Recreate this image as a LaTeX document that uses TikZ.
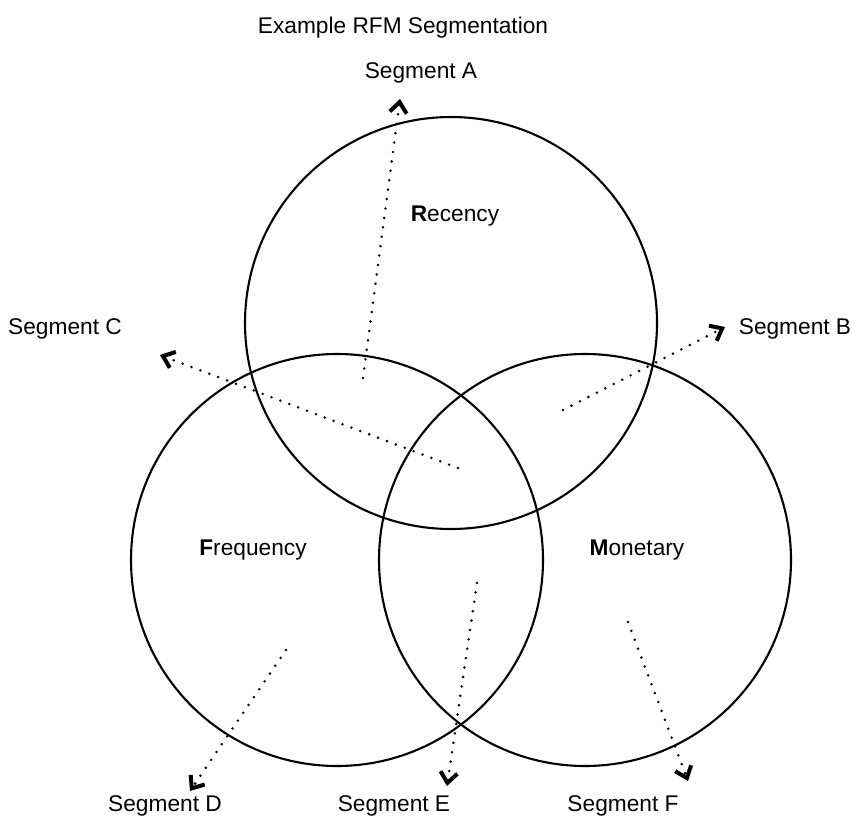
\documentclass[tikz,border=0pt]{standalone}
\usepackage{fontspec}
\setmainfont{Liberation Sans}
\usetikzlibrary{arrows.meta}
\begin{document}
\begin{tikzpicture}[x=1pt,y=-1pt,
  setcircle/.style={draw=black,line width=2.1pt},
  label/.style={font=\fontsize{22.7}{27}\selectfont,inner sep=0pt},
  pointer/.style={line width=2.8pt,line cap=round,dash pattern=on 0pt off 9.5pt,
    -{Straight Barb[length=10.5pt,width=17pt,line width=4pt]}}]
  \useasboundingbox (0,0) rectangle (856,832);
  % the three sets
  \node[setcircle,circle,minimum size=412pt,inner sep=0pt] (rec) at (451,323) {};
  \node[setcircle,circle,minimum size=412pt,inner sep=0pt] (fre) at (337,560) {};
  \node[setcircle,circle,minimum size=412pt,inner sep=0pt] (mon) at (585,560) {};
  % set names
  \node[label] (rlab) at (455,216) {\textbf{R}ecency};
  \node[label] (flab) at (253,550) {\textbf{F}requency};
  \node[label] (mlab) at (637,550) {\textbf{M}onetary};
  % title and segment names
  \node[label] (title) at (403,28) {Example RFM Segmentation};
  \node[label] (sa) at (421,73) {Segment A};
  \node[label] (sb) at (795,329) {Segment B};
  \node[label] (sc) at (65,329) {Segment C};
  \node[label] (sd) at (165,806) {Segment D};
  \node[label] (se) at (394,806) {Segment E};
  \node[label] (sf) at (623,806) {Segment F};
  % region anchors and arrow ends
  \coordinate (ra) at (363,378);  \coordinate (ta) at (400,99);
  \coordinate (rb) at (563,410);  \coordinate (tb) at (725,327);
  \coordinate (rc) at (458,468);  \coordinate (tc) at (160,355);
  \coordinate (rd) at (286,650);  \coordinate (td) at (190,791);
  \coordinate (re) at (477,583);  \coordinate (te) at (447,786);
  \coordinate (rf) at (628,622);  \coordinate (tf) at (688,781);
  \draw[pointer] (ra) -- (ta);
  \draw[pointer] (rb) -- (tb);
  \draw[pointer] (rc) -- (tc);
  \draw[pointer] (rd) -- (td);
  \draw[pointer] (re) -- (te);
  \draw[pointer] (rf) -- (tf);
\end{tikzpicture}
\end{document}
